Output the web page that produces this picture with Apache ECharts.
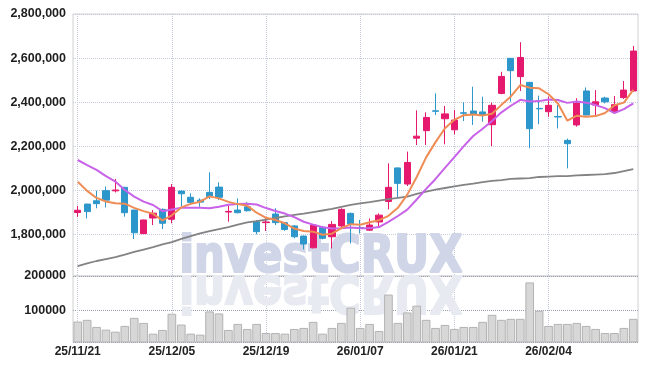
<!DOCTYPE html>
<html><head><meta charset="utf-8">
<script src="https://cdn.jsdelivr.net/npm/echarts@6/dist/echarts.min.js"></script>
<style>html,body{margin:0;padding:0;background:#fff}#c{width:647px;height:370px}</style>
</head><body><div id="c"></div>
<script>
const dates = ['25/11/21','25/11/24','25/11/25','25/11/26','25/11/27','25/11/28','25/12/01','25/12/02','25/12/03','25/12/04','25/12/05','25/12/08','25/12/09','25/12/10','25/12/11','25/12/12','25/12/15','25/12/16','25/12/17','25/12/18','25/12/19','25/12/22','25/12/23','25/12/24','25/12/26','25/12/29','25/12/30','26/01/02','26/01/05','26/01/06','26/01/07','26/01/08','26/01/09','26/01/12','26/01/13','26/01/14','26/01/15','26/01/16','26/01/19','26/01/20','26/01/21','26/01/22','26/01/23','26/01/26','26/01/27','26/01/28','26/01/29','26/01/30','26/02/02','26/02/03','26/02/04','26/02/05','26/02/06','26/02/09','26/02/10','26/02/11','26/02/12','26/02/13','26/02/19','26/02/20'];

const opens  = [1900000,1938000,1953000,1999000,1998000,2014000,1911000,1804000,1875000,1914000,1869000,1997000,1969000,1956000,1991000,2015000,1902000,1911000,1926000,1858000,1854000,1893000,1854000,1839000,1793000,1740000,1833000,1790000,1839000,1896000,1832000,1820000,1857000,1950000,2102000,2029000,2237000,2271000,2361000,2325000,2275000,2352000,2360000,2356000,2298000,2440000,2599000,2516000,2490000,2372000,2357000,2335000,2227000,2297000,2451000,2387000,2419000,2357000,2421000,2451000];
const closes = [1910000,1904000,1940000,1956000,2002000,1899000,1808000,1866000,1897000,1851000,2014000,1985000,1946000,1947000,1972000,1969000,1905000,1899000,1908000,1813000,1857000,1854000,1823000,1790000,1757000,1843000,1783000,1846000,1914000,1848000,1830000,1843000,1888000,2014000,2032000,2127000,2246000,2331000,2359000,2347000,2319000,2350000,2345000,2340000,2386000,2517000,2543000,2603000,2280000,2370000,2386000,2333000,2212000,2396000,2342000,2402000,2402000,2389000,2455000,2632000];
const lows   = [1880000,1873000,1919000,1923000,1991000,1881000,1780000,1803000,1843000,1825000,1851000,1926000,1934000,1926000,1961000,1957000,1858000,1896000,1904000,1801000,1816000,1843000,1817000,1783000,1733000,1737000,1778000,1737000,1833000,1760000,1805000,1816000,1836000,1914000,1967000,2020000,2206000,2206000,2342000,2209000,2254000,2315000,2297000,2312000,2201000,2436000,2402000,2451000,2191000,2300000,2334000,2281000,2100000,2289000,2341000,2342000,2395000,2353000,2415000,2448000];
const highs  = [1930000,1940000,1999000,2017000,2052000,2016000,1912000,1867000,1911000,1918000,2029000,1999000,1987000,1964000,2082000,2037000,1931000,1964000,1947000,1866000,1876000,1919000,1856000,1843000,1795000,1848000,1839000,1861000,1919000,1899000,1866000,1873000,1896000,2123000,2104000,2176000,2363000,2354000,2440000,2383000,2365000,2399000,2470000,2425000,2398000,2538000,2600000,2672000,2492000,2430000,2425000,2387000,2235000,2418000,2467000,2455000,2425000,2428000,2496000,2655000];

const ma5  = [2039000,1998000,1966000,1950000,1942000,1940000,1921000,1906000,1894000,1864000,1887000,1923000,1939000,1949000,1973000,1964000,1948000,1938000,1931000,1899000,1876000,1866000,1851000,1827000,1816000,1813000,1799000,1804000,1829000,1847000,1844000,1856000,1865000,1885000,1921000,1981000,2061000,2150000,2219000,2282000,2320000,2341000,2344000,2340000,2348000,2388000,2426000,2478000,2466000,2463000,2436000,2394000,2316000,2339000,2334000,2337000,2351000,2386000,2398000,2456000];
const ma10 = [2138000,2115000,2093000,2065000,2040000,2002000,1972000,1949000,1934000,1906000,1914000,1922000,1922000,1922000,1919000,1926000,1935000,1939000,1940000,1936000,1920000,1907000,1895000,1879000,1858000,1845000,1833000,1827000,1828000,1832000,1829000,1828000,1834000,1857000,1884000,1913000,1959000,2007000,2052000,2102000,2151000,2201000,2247000,2280000,2315000,2354000,2384000,2411000,2403000,2405000,2412000,2410000,2397000,2403000,2398000,2387000,2373000,2351000,2369000,2395000];
const ma60 = [1657000,1669000,1680000,1689000,1698000,1709000,1721000,1732000,1743000,1755000,1766000,1780000,1793000,1805000,1816000,1825000,1834000,1845000,1855000,1861000,1868000,1875000,1882000,1889000,1895000,1902000,1909000,1916000,1925000,1934000,1941000,1947000,1954000,1961000,1966000,1972000,1984000,1995000,2004000,2011000,2018000,2025000,2031000,2038000,2043000,2047000,2052000,2054000,2056000,2061000,2063000,2065000,2065000,2068000,2070000,2072000,2074000,2079000,2088000,2097000];

const volumes = [68900,73800,53400,45600,39800,56300,79600,65000,34000,44700,91300,60200,34000,31100,98100,92200,44700,62100,47600,62100,35900,35900,34000,47600,50500,68000,34000,50500,65000,108700,50500,62100,41700,146600,65000,95100,114600,73800,50500,59200,47600,53400,53400,68000,88300,73800,76700,76700,181600,100000,56300,62100,62100,65000,56300,47600,35900,35900,50500,76700];

const priceMin = 1612000, priceMax = 2800000, priceStep = 200000;
const volMin = 10000, volMax = 200000, volStep = 100000;
const watermark = 'investCRUX';

const UP = '#E5196D', DOWN = '#2D96CA';
const FONT = 'Liberation Sans';
const dotted = {type:'dotted', color:'#c5cadf', width:1};

const chart = echarts.init(document.getElementById('c'), null, {renderer:'canvas'});

// watermark metrics
const wmSize = 52, wmFamily = 'DejaVu Sans';
const cx = document.createElement('canvas').getContext('2d');
cx.font = 'bold ' + wmSize + 'px "' + wmFamily + '"';
cx.textBaseline = 'middle';
const mm = cx.measureText(watermark);
const inkW = mm.actualBoundingBoxLeft + mm.actualBoundingBoxRight;
const sx = 280 / inkW;
const baseOff = cx.measureText('X').actualBoundingBoxDescent;
function wm(scaleY, color, z) {
  return {
    type:'text', silent:true, z: z,
    x: 182.5 + mm.actualBoundingBoxLeft * sx, y: 274,
    scaleX: sx, scaleY: scaleY,
    style:{text: watermark, x:0, y: -2 - baseOff, fontSize: wmSize, fontWeight:'bold', fontFamily: wmFamily,
      fill: color, stroke: color, lineWidth: 2.2, align:'left', verticalAlign:'middle'}
  };
}

const xBase = {
  type:'category', data: dates, boundaryGap:true,
  axisLine:{show:false}, axisTick:{show:false},
  splitLine:{show:true, interval:9, alignWithLabel:true, lineStyle:dotted}
};

chart.setOption({
  animation:false,
  backgroundColor:'#ffffff',
  grid:[
    {left:73, right:9, top:14, height:262, show:true, borderColor:'#d0d0d0', borderWidth:1, backgroundColor:'transparent'},
    {left:73, right:9, top:276, height:66, show:true, borderColor:'#d0d0d0', borderWidth:1, backgroundColor:'transparent'}
  ],
  xAxis:[
    Object.assign({}, xBase, {gridIndex:0, axisLabel:{show:false}}),
    Object.assign({}, xBase, {gridIndex:1, axisLabel:{show:true, interval:9, margin:4, fontSize:12, fontWeight:'bold', color:'#222', fontFamily:FONT}})
  ],
  yAxis:[
    {type:'value', gridIndex:0, min:priceMin, max:priceMax, splitNumber:6,
     axisLine:{show:false}, axisTick:{show:false},
     axisLabel:{margin:7, fontSize:12.5, fontWeight:'bold', color:'#1e1e1e', fontFamily:FONT,
       formatter: v => (v % priceStep === 0 ? v.toLocaleString('en-US') : '')},
     splitLine:{show:true, lineStyle:dotted}},
    {type:'value', gridIndex:1, min:volMin, max:volMax, splitNumber:2,
     axisLine:{show:false}, axisTick:{show:false},
     axisLabel:{margin:7, fontSize:12.5, fontWeight:'bold', color:'#1e1e1e', fontFamily:FONT,
       formatter: v => (v % volStep === 0 ? String(v) : '')},
     splitLine:{show:true, lineStyle:{type:'dotted', color:'#9a9fb0', width:1}}}
  ],
  graphic:{elements:[ wm(1, '#d0d6e8', 1), wm(-1, '#e8eaf1', 1) ]},
  series:[
    {type:'bar', xAxisIndex:1, yAxisIndex:1, data: volumes, barCategoryGap:'8%', z:3,
     itemStyle:{color:'#d7d7d7', borderColor:'#b3b3b3', borderWidth:1}},
    {type:'candlestick', xAxisIndex:0, yAxisIndex:0, barWidth:'70%', z:3,
     data: dates.map((d,i)=>[opens[i], closes[i], lows[i], highs[i]]),
     itemStyle:{color:UP, color0:DOWN, borderColor:UP, borderColor0:DOWN, borderWidth:1}},
    {type:'line', xAxisIndex:0, yAxisIndex:0, data: ma60, symbol:'none', z:4, lineStyle:{color:'#838383', width:1.8}},
    {type:'line', xAxisIndex:0, yAxisIndex:0, data: ma10, symbol:'none', z:4, lineStyle:{color:'#C862E8', width:2}},
    {type:'line', xAxisIndex:0, yAxisIndex:0, data: ma5, symbol:'none', z:4, lineStyle:{color:'#EF8C55', width:2}}
  ]
});
</script></body></html>
